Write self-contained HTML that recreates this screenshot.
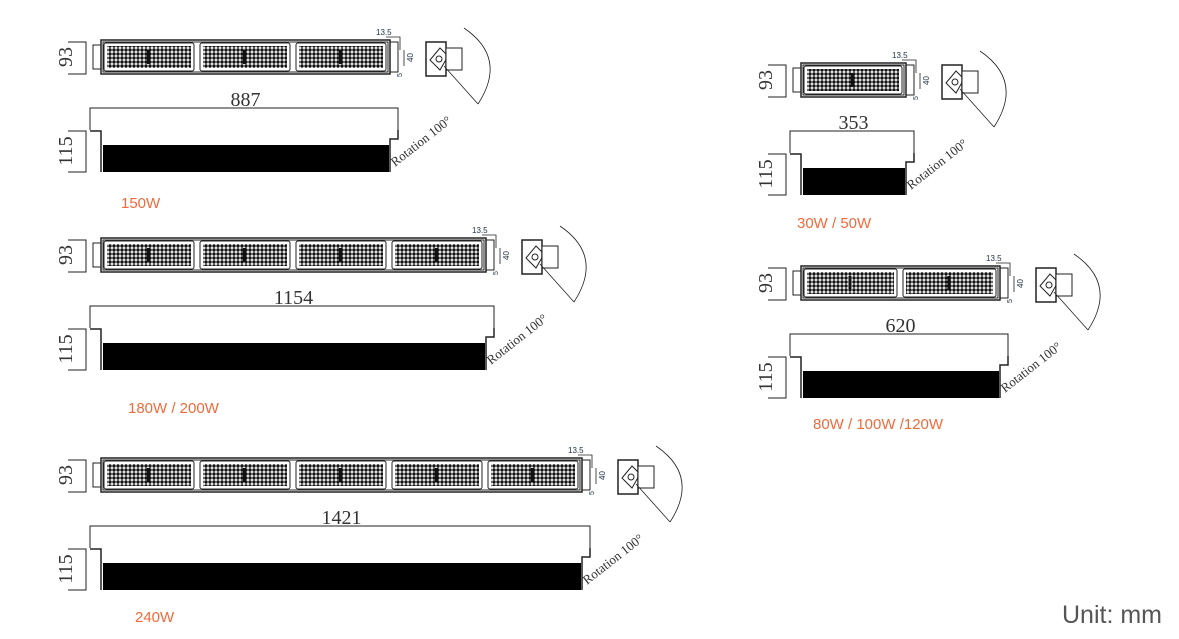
<!DOCTYPE html>
<html><head><meta charset="utf-8">
<style>
html,body{margin:0;padding:0;background:#fff;width:1179px;height:639px;overflow:hidden}
svg{display:block}
.d{font-family:"Liberation Serif",serif;fill:#333}
.p{font-family:"Liberation Sans",sans-serif;fill:#f26a3a;font-size:15px}
</style></head><body>
<svg id="s" width="1179" height="639" viewBox="0 0 1179 639" xmlns="http://www.w3.org/2000/svg">
<defs>
<pattern id="dots" width="4" height="4" patternUnits="userSpaceOnUse">
<circle cx="2" cy="2" r="1.7" fill="#111"/>
</pattern>
</defs>
<text x="1062" y="623" font-family="Liberation Sans,sans-serif" font-size="25" fill="#555">Unit: mm</text>
</svg>
<script>
const s=document.getElementById('s');let h='';
function fx(x0,n,top,dim,lab,lx,ly,W){
 W=W||96;
 const bL=x0+8, bR=bL+n*W+1, R=bR+8, lbx=x0-27;
 h+=`<text class="d" font-size="20" transform="translate(${lbx},${top+17}) rotate(-90)" text-anchor="middle" dominant-baseline="central">93</text>`;
 h+=`<path d="M${x0-25} ${top+2}H${x0-7}V${top+34}H${x0-25}" fill="none" stroke="#222"/>`;
 h+=`<rect x="${x0}" y="${top+5}" width="8" height="24" fill="none" stroke="#222"/>`;
 h+=`<rect x="${bL}" y="${top}" width="${bR-bL}" height="34" fill="none" stroke="#222" stroke-width="1.5"/>`;
 h+=`<rect x="${bL+2}" y="${top+2}" width="${bR-bL-4}" height="30" fill="none" stroke="#222"/>`;
 for(let i=0;i<n;i++){const mx=bL+3+i*W;
  h+=`<rect x="${mx}" y="${top+3}" width="${W-6}" height="28" fill="none" stroke="#222" rx="2"/>`;
  h+=`<rect x="${mx+3}" y="${top+6}" width="${W-12}" height="22" fill="url(#dots)"/>`;
  h+=`<rect x="${mx+W/2-5}" y="${top+10}" width="3" height="14" fill="#111"/>`;}
 h+=`<rect x="${bR}" y="${top+2}" width="8" height="30" fill="none" stroke="#222"/>`;
 h+=`<path d="M${bR-4} ${top-3}H${R+2}V${top+10}M${R+6} ${top+10}V${top+26}" fill="none" stroke="#222" stroke-width=".8"/>`;
 h+=`<text x="${bR-14}" y="${top-5}" font-size="8" fill="#234" font-family="Liberation Sans,sans-serif">13.5</text>`;
 h+=`<text transform="translate(${R+15},${top+22}) rotate(-90)" font-size="8" fill="#234" font-family="Liberation Sans,sans-serif">40</text>`;
 h+=`<text transform="translate(${R+4},${top+37}) rotate(-90)" font-size="7" fill="#234" font-family="Liberation Sans,sans-serif">5</text>`;
 const ex=R+28;
 h+=`<rect x="${ex}" y="${top+2}" width="20" height="34" fill="none" stroke="#222" stroke-width="1.5"/>`;
 h+=`<path d="M${ex+4} ${top+20}L${ex+14} ${top+8}L${ex+22} ${top+16}L${ex+14} ${top+30}Z" fill="none" stroke="#222"/>`;
 h+=`<circle cx="${ex+13}" cy="${top+19}" r="3" fill="none" stroke="#222"/>`;
 h+=`<rect x="${ex+20}" y="${top+8}" width="16" height="22" fill="#fff" stroke="#222"/>`;
 h+=`<path d="M${ex+38} ${top-12}Q${ex+82} ${top+18} ${ex+52} ${top+64}" fill="none" stroke="#222" stroke-width=".8"/>`;
 h+=`<path d="M${ex+18} ${top+26}L${ex+52} ${top+64}" stroke="#222" stroke-width=".8"/>`;
 h+=`<text class="d" font-size="13" fill="#234" transform="translate(${R-3},${top+127}) rotate(-38)">Rotation 100°</text>`;
 const dy=top+68, st=top+91, sb=top+132;
 h+=`<path d="M${x0-3} ${dy+22}V${dy}H${R}V${dy+22}" fill="none" stroke="#222"/>`;
 h+=`<text class="d" font-size="20" x="${(x0+R)/2}" y="${dy-2}" text-anchor="middle">${dim}</text>`;
 h+=`<text class="d" font-size="20" transform="translate(${lbx},${st+20}) rotate(-90)" text-anchor="middle" dominant-baseline="central">115</text>`;
 h+=`<path d="M${x0-25} ${st}H${x0-7}V${sb}H${x0-25}" fill="none" stroke="#222"/>`;
 h+=`<path d="M${x0-3} ${st}H${bL}V${sb}M${R} ${dy+22}V${st+8}H${bR}V${sb}" fill="none" stroke="#222" stroke-width="1.5"/>`;
 h+=`<rect x="${bL+2}" y="${st+14}" width="${bR-bL-3}" height="${sb-st-14}" fill="#000"/>`;
 h+=`<text class="p" x="${lx}" y="${ly}">${lab}</text>`;
}
fx(93,3,40,'887','150W',121,208);
fx(93,4,238,'1154','180W / 200W',128,413);
fx(93,5,458,'1421','240W',135,622);
fx(793,1,63,'353','30W / 50W',797,228,104);
fx(793,2,266,'620','80W / 100W  /120W',813,429,99);
s.insertAdjacentHTML('beforeend',h);
</script>
</body></html>
